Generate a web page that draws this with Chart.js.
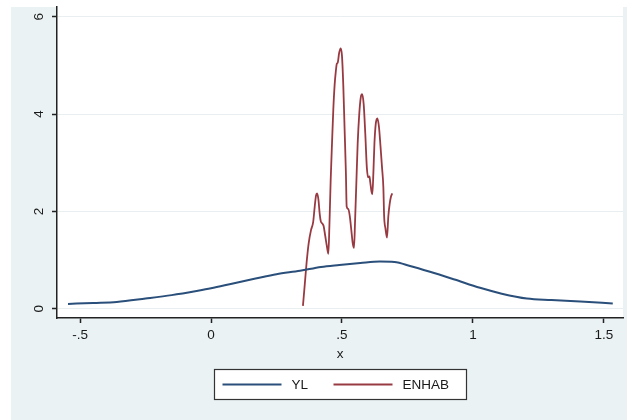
<!DOCTYPE html>
<html>
<head>
<meta charset="utf-8">
<script src="https://cdn.jsdelivr.net/npm/chart.js@4/dist/chart.umd.min.js"></script>
<style>
  html, body { margin: 0; padding: 0; background: #ffffff; }
  canvas { display: block; }
</style>
</head>
<body>
<canvas id="c" width="627" height="420"></canvas>
<script>
// Tick positions on both axes
const xTickValues = [-0.5, 0, 0.5, 1, 1.5];
const yTickValues = [0, 2, 4, 6];

// Kernel density of YL
const ylX = [-0.546, -0.45, -0.36, -0.25, -0.15, -0.05, 0.0, 0.084, 0.17, 0.25, 0.34, 0.42, 0.49, 0.57, 0.645, 0.70, 0.76, 0.836, 0.93, 1.027, 1.11, 1.206, 1.30, 1.41, 1.534];
const ylY = [0.10, 0.12, 0.14, 0.21, 0.28, 0.37, 0.42, 0.52, 0.62, 0.71, 0.78, 0.86, 0.90, 0.94, 0.97, 0.96, 0.88, 0.76, 0.60, 0.43, 0.31, 0.21, 0.18, 0.15, 0.11];

// Kernel density of ENHAB
const enhabX = [0.351, 0.358, 0.365, 0.373, 0.382, 0.390, 0.396, 0.401, 0.405, 0.410, 0.415, 0.419, 0.425, 0.430, 0.436, 0.442, 0.448,
  0.452, 0.457, 0.462, 0.467, 0.472, 0.477, 0.480, 0.484, 0.489, 0.495, 0.500, 0.505, 0.510, 0.515, 0.518, 0.524, 0.530, 0.536, 0.541, 0.546,
  0.550, 0.555, 0.560, 0.566, 0.572, 0.577, 0.583, 0.589, 0.595, 0.600, 0.605, 0.608, 0.613, 0.616,
  0.620, 0.624, 0.629, 0.635, 0.641, 0.647, 0.653, 0.658, 0.661, 0.666, 0.672, 0.677, 0.682, 0.687, 0.692];
const enhabY = [0.06, 0.50, 0.95, 1.35, 1.62, 1.78, 2.10, 2.33, 2.37, 2.25, 1.95, 1.80, 1.75, 1.70, 1.50, 1.30, 1.13,
  1.70, 2.66, 3.40, 4.10, 4.60, 4.90, 5.03, 5.06, 5.25, 5.35, 5.20, 4.60, 3.70, 2.80, 2.10, 2.05, 1.90, 1.60, 1.35, 1.25,
  1.80, 2.60, 3.40, 4.00, 4.35, 4.41, 4.20, 3.60, 2.90, 2.70, 2.72, 2.60, 2.40, 2.35,
  2.80, 3.40, 3.80, 3.91, 3.75, 3.35, 2.90, 2.50, 1.90, 1.65, 1.46, 1.90, 2.15, 2.30, 2.37];

const FONT = '"Liberation Sans", Arial, Helvetica, sans-serif';
const FONT_SIZE = 13.5;
const TEXT = '#1a1a1a';
const NAVY = '#2a4f7a';
const MAROON = '#983a42';
const GRAPH_BG = '#eaf2f3';

function fmt(v) {
  let s = String(+v.toFixed(2));
  s = s.replace(/^0\./, '.').replace(/^-0\./, '-.');
  return s;
}

const toPoints = (xs, ys) => xs.map((x, i) => ({ x: x, y: ys[i] }));

// Graph region fill and white plot region
const backgroundPlugin = {
  id: 'graphBackground',
  beforeDraw(chart) {
    const { ctx, chartArea: a, width, height } = chart;
    ctx.save();
    ctx.fillStyle = '#ffffff';
    ctx.fillRect(0, 0, width, height);
    ctx.fillStyle = GRAPH_BG;
    ctx.fillRect(11, 7, width - 11, height - 7);
    ctx.fillStyle = '#ffffff';
    ctx.fillRect(a.left, a.top, a.right - a.left, a.bottom - a.top);
    ctx.restore();
  }
};

// Rotated y tick labels and boxed legend under the axis title
const annotatePlugin = {
  id: 'annotate',
  afterDraw(chart) {
    const { ctx, chartArea: a } = chart;
    const ys = chart.scales.y;
    ctx.save();
    ctx.fillStyle = TEXT;
    ctx.font = FONT_SIZE + 'px ' + FONT;
    ctx.textAlign = 'center';
    ctx.textBaseline = 'middle';
    ys.ticks.forEach(t => {
      const py = ys.getPixelForValue(t.value);
      ctx.save();
      ctx.translate(a.left - 18, py);
      ctx.rotate(-Math.PI / 2);
      ctx.fillText(fmt(t.value), 0, 0);
      ctx.restore();
    });

    // legend
    const cx = (a.left + a.right) / 2;
    const boxW = 252, boxH = 30;
    const bx = Math.round(cx - boxW / 2) + 0.5;
    const by = 369.5;
    ctx.fillStyle = '#ffffff';
    ctx.fillRect(bx, by, boxW, boxH);
    ctx.strokeStyle = '#333333';
    ctx.lineWidth = 1.2;
    ctx.strokeRect(bx, by, boxW, boxH);
    const midY = by + boxH / 2;
    const items = chart.data.datasets;
    const starts = [bx + 8, bx + 119];
    items.forEach((ds, i) => {
      const sx = starts[i];
      ctx.strokeStyle = ds.borderColor;
      ctx.lineWidth = 2;
      ctx.beginPath();
      ctx.moveTo(sx, midY);
      ctx.lineTo(sx + 59, midY);
      ctx.stroke();
      ctx.fillStyle = TEXT;
      ctx.textAlign = 'left';
      ctx.fillText(ds.label, sx + 69, midY + 0.5);
    });
    ctx.restore();
  }
};

new Chart(document.getElementById('c'), {
  type: 'line',
  data: {
    datasets: [
      {
        label: 'YL',
        data: toPoints(ylX, ylY),
        borderColor: NAVY,
        borderWidth: 2,
        pointRadius: 0,
        cubicInterpolationMode: 'monotone',
        fill: false
      },
      {
        label: 'ENHAB',
        data: toPoints(enhabX, enhabY),
        borderColor: MAROON,
        borderWidth: 1.8,
        pointRadius: 0,
        cubicInterpolationMode: 'monotone',
        fill: false
      }
    ]
  },
  options: {
    responsive: false,
    animation: false,
    devicePixelRatio: 1,
    layout: { padding: { left: 0, top: 7, right: 4, bottom: 0 } },
    plugins: {
      legend: { display: false },
      tooltip: { enabled: false }
    },
    scales: {
      x: {
        type: 'linear',
        min: -0.588,
        max: 1.573,
        afterBuildTicks: s => { s.ticks = xTickValues.map(v => ({ value: v })); },
        afterFit: s => { s.height = 102; },
        ticks: {
          callback: v => fmt(v),
          font: { family: FONT, size: FONT_SIZE },
          color: TEXT,
          padding: 4,
          maxRotation: 0,
          autoSkip: false
        },
        grid: {
          drawOnChartArea: false,
          drawTicks: true,
          tickLength: 5,
          tickColor: '#222222',
          tickWidth: 1.5
        },
        border: { display: true, color: '#222222', width: 1.5 },
        title: {
          display: true,
          text: 'x',
          font: { family: FONT, size: FONT_SIZE },
          color: TEXT,
          padding: { top: 0, bottom: 58 }
        }
      },
      y: {
        type: 'linear',
        min: -0.19,
        max: 6.2,
        afterBuildTicks: s => { s.ticks = yTickValues.map(v => ({ value: v })); },
        afterFit: s => { s.width = 57; },
        ticks: { display: false },
        grid: {
          color: '#e9eff1',
          lineWidth: 1,
          drawTicks: true,
          tickLength: 5,
          tickColor: '#222222',
          tickWidth: 1.5
        },
        border: { display: true, color: '#222222', width: 1.5 }
      }
    }
  },
  plugins: [backgroundPlugin, annotatePlugin]
});
</script>
</body>
</html>
